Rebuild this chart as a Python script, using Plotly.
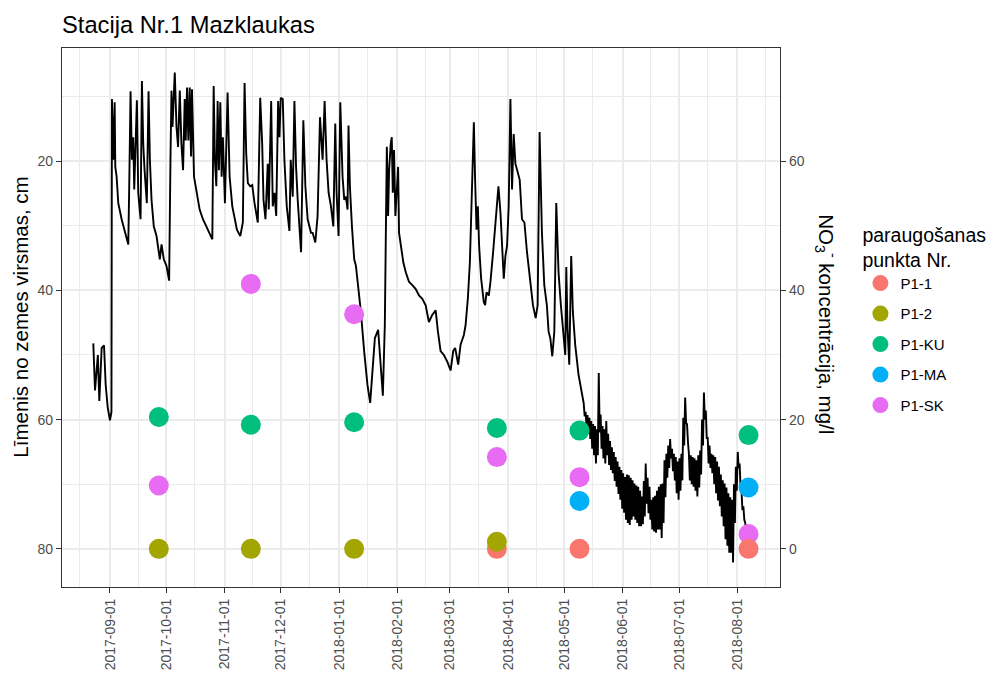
import pandas as pd
import plotly.graph_objects as go

# ---------------- groundwater level (cm below surface) ----------------
level_time = [
    "2017-08-23 03:00", "2017-08-24 01:00", "2017-08-25 13:00", "2017-08-26 08:00", "2017-08-27 14:00",
    "2017-08-28 20:00", "2017-08-29 17:00", "2017-08-30 19:00", "2017-09-01 00:00", "2017-09-01 19:00",
    "2017-09-02 01:00", "2017-09-02 18:00", "2017-09-03 12:00", "2017-09-03 20:00", "2017-09-04 13:00",
    "2017-09-05 10:00", "2017-09-07 05:00", "2017-09-08 23:00", "2017-09-09 20:00", "2017-09-10 18:00",
    "2017-09-11 06:00", "2017-09-11 23:00", "2017-09-12 16:00", "2017-09-13 09:00", "2017-09-13 22:00",
    "2017-09-14 15:00", "2017-09-15 08:00", "2017-09-16 01:00", "2017-09-17 07:00", "2017-09-18 00:00",
    "2017-09-18 17:00", "2017-09-19 10:00", "2017-09-20 03:00", "2017-09-20 15:00", "2017-09-21 13:00",
    "2017-09-22 06:00", "2017-09-23 03:00", "2017-09-24 08:00", "2017-09-25 19:00", "2017-09-27 13:00",
    "2017-09-28 11:00", "2017-09-29 16:00", "2017-10-01 02:00", "2017-10-02 12:00", "2017-10-03 05:00",
    "2017-10-03 18:00", "2017-10-04 07:00", "2017-10-05 12:00", "2017-10-06 10:00", "2017-10-07 06:00",
    "2017-10-08 04:00", "2017-10-09 01:00", "2017-10-09 22:00", "2017-10-10 19:00", "2017-10-11 08:00",
    "2017-10-12 01:00", "2017-10-12 18:00", "2017-10-13 11:00", "2017-10-14 04:00", "2017-10-14 16:00",
    "2017-10-15 18:00", "2017-10-17 00:00", "2017-10-18 18:00", "2017-10-20 12:00", "2017-10-22 08:00",
    "2017-10-24 02:00", "2017-10-25 12:00", "2017-10-26 05:00", "2017-10-26 21:00", "2017-10-27 15:00",
    "2017-10-28 08:00", "2017-10-29 00:00", "2017-10-29 18:00", "2017-10-30 11:00", "2017-10-31 03:00",
    "2017-11-01 05:00", "2017-11-02 15:00", "2017-11-03 17:00", "2017-11-05 03:00", "2017-11-06 12:00",
    "2017-11-07 14:00", "2017-11-09 09:00", "2017-11-10 18:00", "2017-11-11 16:00", "2017-11-12 13:00",
    "2017-11-13 10:00", "2017-11-14 16:00", "2017-11-15 18:00", "2017-11-16 23:00", "2017-11-18 17:00",
    "2017-11-20 00:00", "2017-11-21 01:00", "2017-11-21 18:00", "2017-11-22 19:00", "2017-11-24 00:00",
    "2017-11-24 13:00", "2017-11-25 20:00", "2017-11-26 16:00", "2017-11-27 14:00", "2017-11-28 12:00",
    "2017-11-29 13:00", "2017-11-30 06:00", "2017-11-30 22:00", "2017-12-02 00:00", "2017-12-02 21:00",
    "2017-12-04 03:00", "2017-12-05 13:00", "2017-12-06 06:00", "2017-12-07 07:00", "2017-12-08 05:00",
    "2017-12-09 02:00", "2017-12-09 23:00", "2017-12-10 20:00", "2017-12-11 18:00", "2017-12-12 23:00",
    "2017-12-14 01:00", "2017-12-15 06:00", "2017-12-17 01:00", "2017-12-17 22:00", "2017-12-19 08:00",
    "2017-12-20 13:00", "2017-12-21 20:00", "2017-12-23 05:00", "2017-12-24 07:00", "2017-12-25 08:00",
    "2017-12-26 10:00", "2017-12-27 16:00", "2017-12-28 22:00", "2017-12-29 23:00", "2017-12-30 16:00",
    "2017-12-31 17:00", "2018-01-01 15:00", "2018-01-02 20:00", "2018-01-03 18:00", "2018-01-04 15:00",
    "2018-01-05 12:00", "2018-01-06 00:00", "2018-01-06 18:00", "2018-01-07 20:00", "2018-01-09 01:00",
    "2018-01-09 23:00", "2018-01-10 19:00", "2018-01-12 14:00", "2018-01-14 08:00", "2018-01-16 02:00",
    "2018-01-17 13:00", "2018-01-18 23:00", "2018-01-20 01:00", "2018-01-21 19:00", "2018-01-22 20:00",
    "2018-01-24 07:00", "2018-01-25 08:00", "2018-01-25 21:00", "2018-01-26 10:00", "2018-01-27 02:00",
    "2018-01-27 15:00", "2018-01-28 12:00", "2018-01-29 01:00", "2018-01-29 14:00", "2018-01-30 06:00",
    "2018-01-30 23:00", "2018-01-31 17:00", "2018-02-01 10:00", "2018-02-01 22:00", "2018-02-02 20:00",
    "2018-02-04 05:00", "2018-02-05 12:00", "2018-02-07 06:00", "2018-02-09 00:00", "2018-02-10 19:00",
    "2018-02-12 13:00", "2018-02-14 07:00", "2018-02-16 02:00", "2018-02-17 20:00", "2018-02-19 14:00",
    "2018-02-21 10:00", "2018-02-22 15:00", "2018-02-24 01:00", "2018-02-25 19:00", "2018-02-27 13:00",
    "2018-03-01 09:00", "2018-03-02 18:00", "2018-03-03 19:00", "2018-03-05 10:00", "2018-03-06 16:00",
    "2018-03-08 10:00", "2018-03-09 08:00", "2018-03-10 13:00", "2018-03-11 15:00", "2018-03-12 07:00",
    "2018-03-13 01:00", "2018-03-13 18:00", "2018-03-14 10:00", "2018-03-15 04:00", "2018-03-15 21:00",
    "2018-03-16 13:00", "2018-03-17 15:00", "2018-03-19 01:00", "2018-03-19 18:00", "2018-03-20 12:00",
    "2018-03-21 17:00", "2018-03-22 14:00", "2018-03-24 00:00", "2018-03-25 06:00", "2018-03-26 20:00",
    "2018-03-27 22:00", "2018-03-28 18:00", "2018-03-29 16:00", "2018-03-30 13:00", "2018-03-31 10:00",
    "2018-04-01 07:00", "2018-04-02 05:00", "2018-04-03 02:00", "2018-04-03 23:00", "2018-04-04 21:00",
    "2018-04-06 02:00", "2018-04-07 04:00", "2018-04-08 09:00", "2018-04-09 16:00", "2018-04-11 01:00",
    "2018-04-12 20:00", "2018-04-14 05:00", "2018-04-15 16:00", "2018-04-16 17:00", "2018-04-17 18:00",
    "2018-04-19 00:00", "2018-04-20 06:00", "2018-04-21 15:00", "2018-04-22 13:00", "2018-04-23 11:00",
    "2018-04-24 12:00", "2018-04-25 14:00", "2018-04-26 15:00", "2018-04-27 20:00", "2018-04-29 02:00",
    "2018-04-30 12:00", "2018-05-01 10:00", "2018-05-01 23:00", "2018-05-02 15:00", "2018-05-03 13:00",
    "2018-05-04 14:00", "2018-05-05 11:00", "2018-05-06 17:00", "2018-05-08 11:00", "2018-05-09 22:00",
    "2018-05-10 18:00",
]
level_cm = [
    48.2, 55.5, 50.0, 57.1, 48.9, 48.5, 54.6, 58.1, 60.1, 58.8,
    10.4, 19.8, 10.9, 20.9, 22.4, 26.5, 29.0, 31.1, 32.1, 32.9,
    23.9, 9.2, 19.8, 16.3, 24.4, 18.8, 10.6, 24.9, 29.0, 7.6,
    17.3, 21.4, 24.9, 26.5, 9.2, 19.8, 26.0, 30.1, 31.6, 35.2,
    32.9, 35.2, 36.2, 38.5, 19.8, 9.1, 14.7, 6.3, 14.7, 17.8,
    9.1, 17.3, 21.4, 10.4, 16.8, 8.6, 16.8, 8.6, 19.3, 8.9,
    22.4, 24.4, 27.5, 29.0, 30.1, 31.3, 32.1, 8.4, 19.8, 23.9,
    10.7, 21.4, 10.9, 22.4, 16.3, 26.5, 9.4, 22.4, 27.0, 29.0,
    30.6, 31.6, 29.5, 7.9, 18.8, 23.4, 23.9, 23.7, 26.5, 29.5,
    10.2, 17.3, 26.0, 29.0, 20.4, 27.5, 10.7, 27.0, 24.9, 28.5,
    10.7, 16.3, 10.2, 10.4, 19.8, 27.0, 30.8, 19.8, 25.5, 10.7,
    20.9, 26.0, 30.1, 34.1, 13.7, 23.9, 29.0, 31.1, 31.1, 32.6,
    28.5, 13.2, 19.8, 10.7, 19.8, 24.9, 27.0, 30.1, 14.2, 24.9,
    31.6, 10.9, 22.4, 26.0, 25.5, 27.5, 14.5, 23.9, 30.1, 35.2,
    36.2, 38.2, 43.3, 49.4, 54.6, 57.4, 51.5, 47.4, 46.1, 50.5,
    56.3, 45.4, 33.1, 17.8, 28.5, 21.4, 17.3, 16.3, 24.9, 18.3,
    28.5, 23.4, 20.9, 31.1, 33.1, 35.7, 37.2, 38.7, 39.2, 39.8,
    40.8, 41.3, 42.3, 44.9, 43.8, 43.1, 46.4, 49.4, 50.0, 51.0,
    52.4, 49.4, 48.9, 51.5, 48.4, 46.9, 45.4, 41.3, 35.7, 28.0,
    20.9, 14.0, 22.9, 30.6, 27.0, 33.1, 38.2, 41.8, 42.3, 40.3,
    40.8, 38.7, 34.1, 29.0, 23.9, 28.0, 32.1, 38.2, 34.7, 33.1,
    27.0, 10.4, 24.4, 15.8, 20.4, 21.9, 22.9, 29.0, 29.5, 34.1,
    38.7, 42.3, 44.3, 42.3, 15.5, 31.1, 39.2, 42.3, 46.4, 47.4,
    50.2, 46.4, 26.5, 37.2, 42.3, 46.9, 50.0, 36.4, 45.9, 51.5,
    34.7, 43.3, 48.4, 53.0, 55.6, 57.0,
]

# daily range of the level from 2018-05-11 onwards (strong daily fluctuation)
band_start = "2018-05-11"
band_min_cm = [
    57.5, 58.8, 59.3, 59.7, 60.2, 60.7, 61.0, 61.5, 52.8, 59.2,
    61.0, 61.5, 60.2, 62.2, 63.3, 64.3, 65.0, 65.8, 66.5, 67.3,
    67.8, 68.3, 68.9, 68.5, 68.6, 69.0, 69.4, 69.9, 70.2, 70.4,
    71.0, 71.9, 69.5, 66.8, 69.0, 70.4, 72.4, 72.0, 71.8, 71.0,
    70.4, 70.0, 69.9, 66.3, 65.3, 64.0, 63.0, 64.5, 65.3, 65.8,
    66.5, 66.0, 65.3, 59.7, 56.6, 60.7, 65.3, 65.5, 65.8, 66.0,
    66.3, 65.5, 64.8, 60.0, 55.8, 58.6, 62.7, 64.0, 65.3, 65.5,
    65.8, 66.5, 67.3, 68.5, 69.4, 69.9, 70.5, 71.4, 72.0, 72.4,
    70.0, 67.3, 65.0, 66.8, 71.0, 73.4, 76.0,
]
band_max_cm = [
    59.5, 61.2, 62.2, 63.0, 64.5, 65.5, 66.8, 65.5, 62.0, 64.5,
    66.0, 66.8, 65.5, 67.0, 67.8, 68.3, 69.5, 70.4, 71.5, 72.4,
    73.8, 74.4, 75.5, 76.0, 76.3, 75.5, 75.0, 75.5, 76.0, 76.5,
    76.5, 76.2, 75.0, 73.0, 74.5, 75.5, 77.0, 77.3, 77.5, 77.0,
    77.0, 78.3, 76.0, 72.0, 69.0, 67.5, 66.0, 68.0, 69.4, 71.4,
    72.4, 71.0, 69.4, 64.0, 60.5, 63.5, 69.4, 70.0, 70.4, 71.0,
    71.9, 70.5, 68.5, 64.0, 60.0, 63.0, 66.8, 67.5, 68.3, 70.0,
    71.4, 72.5, 73.4, 75.0, 76.5, 78.5, 79.5, 80.6, 80.6, 82.1,
    76.0, 71.0, 67.5, 70.4, 74.0, 75.5, 77.5,
]

# ---------------- NO3 concentrations (mg/l) ----------------
sample_dates = ["2017-09-27", "2017-11-15", "2018-01-09", "2018-03-26", "2018-05-09", "2018-08-07"]
no3_p1_1 = [None, None, None, 0.0, 0.0, 0.0]
no3_p1_2 = [0.0, 0.0, 0.0, 1.1, None, None]
no3_p1_ku = [20.4, 19.2, 19.6, 18.7, 18.3, 17.6]
no3_p1_ma = [None, None, None, None, 7.4, 9.5]
no3_p1_sk = [9.8, 41.0, 36.3, 14.2, 11.1, 2.3]

point_names = ["P1-1", "P1-2", "P1-KU", "P1-MA", "P1-SK"]
point_values = [no3_p1_1, no3_p1_2, no3_p1_ku, no3_p1_ma, no3_p1_sk]
point_colors = ["#F8766D", "#A3A500", "#00BF7D", "#00B0F6", "#E76BF3"]
draw_order = [4, 3, 2, 0, 1]  # SK, MA, KU, P1-1, P1-2 (later ones on top)

# ---------------- build the line ----------------
band_days = pd.date_range(band_start, periods=len(band_min_cm), freq="D")
band_x, band_y = [], []
for day, lo, hi in zip(band_days, band_min_cm, band_max_cm):
    band_x += [day + pd.Timedelta(hours=6), day + pd.Timedelta(hours=18)]
    band_y += [lo, hi]
line_x = list(pd.to_datetime(level_time)) + band_x
line_y = level_cm + band_y

FONT = "Liberation Sans, Arial, Helvetica, sans-serif"
TICK_COLOR = "#4D4D4D"
GRID = "#EBEBEB"

fig = go.Figure()
fig.add_trace(go.Scatter(
    x=line_x, y=line_y, mode="lines", yaxis="y",
    line=dict(color="black", width=1.9), showlegend=False, hoverinfo="x+y",
))
for i in draw_order:
    fig.add_trace(go.Scatter(
        x=sample_dates, y=point_values[i], mode="markers", yaxis="y2",
        name=point_names[i], legendgroup=point_names[i], legendrank=i + 1,
        marker=dict(color=point_colors[i], size=20, line=dict(width=0)),
    ))

# left axis (level, reversed) and right axis (NO3 = 80 - level)
y_top, y_bottom = 2.5, 85.9
fig.update_layout(
    width=1000, height=682,
    margin=dict(l=62, r=217, t=48, b=91),
    paper_bgcolor="white", plot_bgcolor="white",
    font=dict(family=FONT, color="black"),
    title=dict(text="Stacija Nr.1 Mazklaukas", x=0.062, xanchor="left",
               y=1 - 25 / 682, yanchor="middle", yref="container",
               font=dict(size=23.7, color="black", family=FONT)),
    xaxis=dict(
        type="date", range=["2017-08-06 11:00", "2018-08-23 18:00"],
        tick0="2017-09-01", dtick="M1", tickformat="%Y-%m-%d", tickangle=-90,
        ticks="outside", ticklen=5, tickwidth=1, tickcolor="#333333",
        tickfont=dict(size=14, color=TICK_COLOR),
        showgrid=True, gridcolor=GRID, gridwidth=1.6,
        minor=dict(tick0="2017-08-16", dtick="M1", showgrid=True, gridcolor=GRID, gridwidth=0.8),
        showline=True, linecolor="#333333", linewidth=1.2, mirror=True,
        zeroline=False,
    ),
    yaxis=dict(
        range=[y_bottom, y_top], tick0=0, dtick=20,
        ticks="outside", ticklen=5, tickwidth=1, tickcolor="#333333",
        tickfont=dict(size=14, color=TICK_COLOR),
        showgrid=True, gridcolor=GRID, gridwidth=1.6,
        minor=dict(tick0=0, dtick=10, showgrid=True, gridcolor=GRID, gridwidth=0.8),
        showline=True, linecolor="#333333", linewidth=1.2, mirror=True,
        zeroline=False,
    ),
    yaxis2=dict(
        overlaying="y", side="right", range=[80 - y_bottom, 80 - y_top],
        tick0=0, dtick=20, ticks="outside", ticklen=5, tickwidth=1, tickcolor="#333333",
        tickfont=dict(size=14, color=TICK_COLOR),
        showgrid=False, zeroline=False, showline=True, linecolor="#333333", linewidth=1.2,
    ),
    legend=dict(
        x=1.112, xanchor="left", y=0.688, yanchor="top",
        title=dict(text="paraugošanas<br>punkta Nr.", font=dict(size=19.5, color="black")),
        font=dict(size=15, color="black"), tracegroupgap=8,
        bgcolor="rgba(0,0,0,0)",
    ),
    annotations=[
        dict(text="Līmenis no zemes virsmas, cm", xref="paper", yref="paper",
             x=(20 - 62) / 721, y=0.5, xanchor="center", yanchor="middle",
             textangle=-90, showarrow=False, font=dict(size=20.5, color="black")),
        dict(text="NO<sub>3</sub><sup>-</sup> koncentrācija, mg/l", xref="paper", yref="paper",
             x=(829 - 62) / 721, y=0.488, xanchor="center", yanchor="middle",
             textangle=90, showarrow=False, font=dict(size=20.5, color="black")),
    ],
)

fig.write_html("out.html")
